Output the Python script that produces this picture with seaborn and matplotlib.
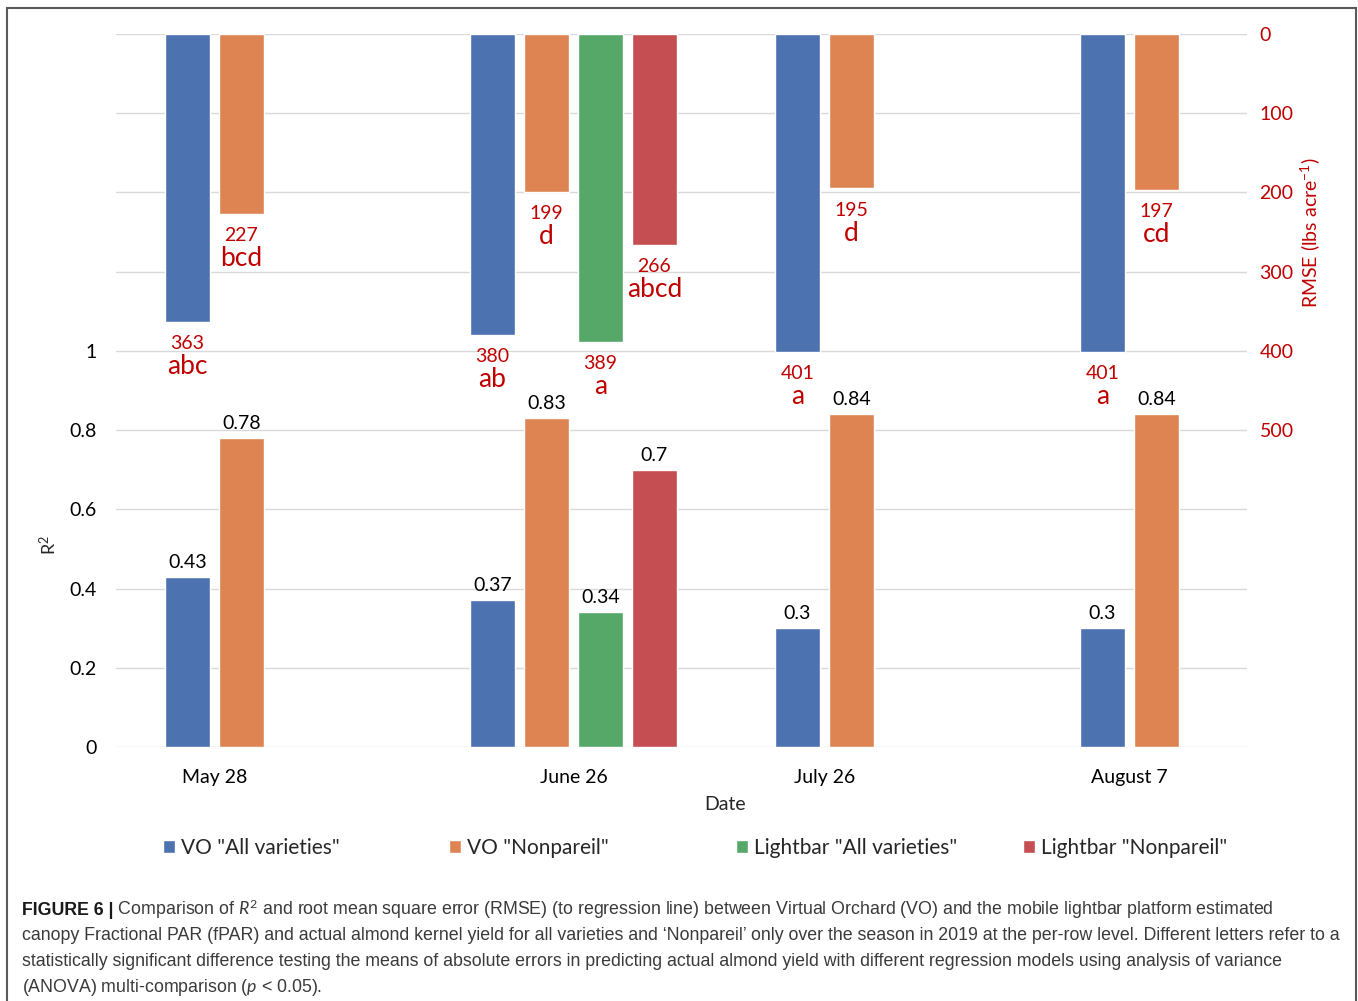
import numpy as np
import pandas as pd
import matplotlib
matplotlib.use('Agg')
import matplotlib.pyplot as plt
from matplotlib.patches import Patch, Rectangle
import seaborn as sns

# chart values
dates = ['May 28', 'June 26', 'July 26', 'August 7']
series = ['VO "All varieties"', 'VO "Nonpareil"',
          'Lightbar "All varieties"', 'Lightbar "Nonpareil"']

r2_vo_all = [0.43, 0.37, 0.30, 0.30]
r2_vo_np = [0.78, 0.83, 0.84, 0.84]
r2_lb_all = [np.nan, 0.34, np.nan, np.nan]
r2_lb_np = [np.nan, 0.70, np.nan, np.nan]

rmse_vo_all = [363, 380, 401, 401]
rmse_vo_np = [227, 199, 195, 197]
rmse_lb_all = [np.nan, 389, np.nan, np.nan]
rmse_lb_np = [np.nan, 266, np.nan, np.nan]

letters_vo_all = ['abc', 'ab', 'a', 'a']
letters_vo_np = ['bcd', 'd', 'd', 'cd']
letters_lb_all = ['', 'a', '', '']
letters_lb_np = ['', 'abcd', '', '']

r2_ticks = [0, 0.2, 0.4, 0.6, 0.8, 1]
rmse_ticks = [0, 100, 200, 300, 400, 500]

r2_all = [r2_vo_all, r2_vo_np, r2_lb_all, r2_lb_np]
rmse_all = [rmse_vo_all, rmse_vo_np, rmse_lb_all, rmse_lb_np]
letters_all = [letters_vo_all, letters_vo_np, letters_lb_all, letters_lb_np]

rows = []
for s, r2s, rms, lts in zip(series, r2_all, rmse_all, letters_all):
    for d, a, b, c in zip(dates, r2s, rms, lts):
        rows.append({'Date': d, 'Series': s, 'R2': a, 'RMSE': b, 'Letter': c})
df = pd.DataFrame(rows)

sns.set_theme(style='white')
plt.rcParams['font.family'] = ['Lato', 'DejaVu Sans']
plt.rcParams['mathtext.fontset'] = 'custom'
plt.rcParams['mathtext.rm'] = 'Lato'
plt.rcParams['mathtext.it'] = 'Lato:italic'
plt.rcParams['mathtext.bf'] = 'Lato:bold'

RED = '#C00000'
palette = sns.color_palette('deep', 4)
W, H = 1358, 1001

fig = plt.figure(figsize=(W / 100, H / 100), dpi=100)
ax = fig.add_axes([116 / W, 1 - 747 / H, (1247 - 116) / W, (747 - 34) / H])

sns.barplot(data=df, x='Date', y='R2', hue='Series', order=dates, hue_order=series,
            palette=palette, saturation=1, width=0.708, gap=0.167, errorbar=None,
            legend=False, ax=ax)
ax2 = ax.twinx()
sns.barplot(data=df, x='Date', y='RMSE', hue='Series', order=dates, hue_order=series,
            palette=palette, saturation=1, width=0.708, gap=0.167, errorbar=None,
            legend=False, ax=ax2)

# axes scales
ax.set_ylim(0, 1.8)
ax2.set_ylim(900, 0)
ax.set_xlim(-0.5, (1247 - 116) / 305 - 0.5)

ax.set_yticks(np.arange(0, 1.81, 0.2))
ax.set_yticklabels([f'{t:g}' for t in r2_ticks] + [''] * 4)
ax2.set_yticks(rmse_ticks)
ax2.set_yticklabels([str(t) for t in rmse_ticks])
ax.grid(axis='y', color='#D9D9D9', lw=1)
ax.grid(axis='x', visible=False)
ax2.grid(False)
ax.set_axisbelow(True)
for a in (ax, ax2):
    for sp in a.spines.values():
        sp.set_visible(False)
ax.tick_params(axis='y', length=0, pad=14, labelsize=14, labelcolor='black')
ax.tick_params(axis='x', length=0, pad=16, labelsize=14, labelcolor='black')
ax2.tick_params(axis='y', length=0, pad=9, labelsize=14, labelcolor=RED)

# value labels
for j, cont in enumerate(ax.containers):
    for p in cont.patches:
        h = p.get_height()
        if not np.isfinite(h):
            continue
        xc = p.get_x() + p.get_width() / 2
        ax.annotate(f'{h:g}', (xc, h), xytext=(0, 6.5), textcoords='offset points',
                    ha='center', va='baseline', fontsize=14, color='black')

for j, cont in enumerate(ax2.containers):
    for p in cont.patches:
        h = p.get_height()
        if not np.isfinite(h):
            continue
        xc = p.get_x() + p.get_width() / 2
        i = int(round(xc))
        ax2.annotate(f'{h:g}', (xc, h), xytext=(0, -19.5), textcoords='offset points',
                     ha='center', va='baseline', fontsize=14, color=RED)
        ax2.annotate(letters_all[j][i], (xc, h), xytext=(0, -37.5), textcoords='offset points',
                     ha='center', va='baseline', fontsize=19, color=RED)

# category labels centred on the bars present in each group
centres = {}
for cont in ax.containers:
    for p in cont.patches:
        if np.isfinite(p.get_height()):
            xc = p.get_x() + p.get_width() / 2
            centres.setdefault(int(round(xc)), []).append(xc)
ax.set_xticks([np.mean(centres[i]) for i in range(len(dates))])
ax.set_xticklabels(dates)
ax2.set_xlabel('')

ax.set_xlabel('Date', fontsize=14)
ax.xaxis.set_label_coords((725 - 116) / 1131, (747 - 796) / 713)
ax.set_ylabel('R$^2$', fontsize=13)
ax.yaxis.set_label_coords((59 - 116) / 1131, (747 - 545) / 713)
ax2.set_ylabel('RMSE (lbs acre$^{-1}$)', fontsize=14, color=RED)
ax2.yaxis.set_label_coords((1298 - 116) / 1131, (747 - 233) / 713)

# legend entries, one per series, spaced like the original
leg_x = [163, 449, 736, 1023]
for c, s, lx in zip(palette, series, leg_x):
    fig.legend([Patch(facecolor=c)], [s], loc='center left',
               bbox_to_anchor=(lx / W, 1 - 848 / H), frameon=False, fontsize=15,
               borderpad=0, borderaxespad=0, handlelength=0.58, handleheight=0.58,
               handletextpad=0.28)

# caption
cap_font = ['Liberation Sans', 'DejaVu Sans']
cap_size = 12.8
cap_color = '#3a3a3a'
y0 = 1 - 915 / H
dy = 25.5 / H
t1 = fig.text(22 / W, y0, 'FIGURE 6 |', family=cap_font, fontsize=cap_size,
              weight='bold', color='#1a1a1a', va='baseline')
t2 = fig.text(0, y0, ' Comparison of $R^2$ and root mean square error (RMSE) (to regression line) '
              'between Virtual Orchard (VO) and the mobile lightbar platform estimated',
              family=cap_font, fontsize=cap_size, color=cap_color, va='baseline')
caption_lines = [
    'canopy Fractional PAR (fPAR) and actual almond kernel yield for all varieties and '
    '\u2018Nonpareil\u2019 only over the season in 2019 at the per-row level. Different letters refer to a',
    'statistically significant difference testing the means of absolute errors in predicting '
    'actual almond yield with different regression models using analysis of variance',
    '(ANOVA) multi-comparison ($p$ < 0.05).',
]
fig.canvas.draw()
bb = t1.get_window_extent()
t2.set_position((bb.x1 / W, y0))
for k, line in enumerate(caption_lines):
    fig.text(22 / W, y0 - (k + 1) * dy, line, family=cap_font, fontsize=cap_size,
             color=cap_color, va='baseline')

fig.add_artist(Rectangle((7 / W, -0.01), (1356 - 7) / W, 1.01 - 8 / H,
                         transform=fig.transFigure, fill=False,
                         edgecolor='#5a5a5a', lw=1.5))

fig.savefig('out.png', dpi=100)
